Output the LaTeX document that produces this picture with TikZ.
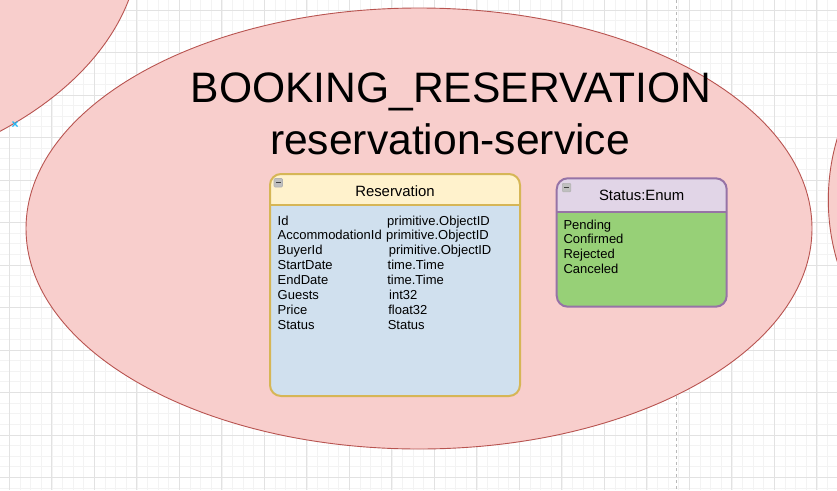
\documentclass[tikz,border=0pt]{standalone}
\usepackage{fontspec}
\setmainfont{Liberation Sans}
\definecolor{gridminor}{HTML}{F3F3F3}
\definecolor{gridmajor}{HTML}{E2E2E2}
\definecolor{ellfill}{HTML}{F8CECC}
\definecolor{ellstroke}{HTML}{B85450}
\definecolor{yelfill}{HTML}{FFF2CC}
\definecolor{yelstroke}{HTML}{D6B656}
\definecolor{bluefill}{HTML}{D0E0EE}
\definecolor{purfill}{HTML}{E1D5E7}
\definecolor{purstroke}{HTML}{9673A6}
\definecolor{grnfill}{HTML}{97D077}
\definecolor{selblue}{HTML}{29B6F2}
\begin{document}
\begin{tikzpicture}[x=1pt,y=-1pt,
  minorline/.style={draw=gridminor,line width=0.8pt},
  majorline/.style={draw=gridmajor,line width=0.9pt},
  service/.style={fill=ellfill,draw=ellstroke,line width=0.9pt},
  titletext/.style={anchor=base,inner sep=0pt,font=\fontsize{42.6}{51}\selectfont},
  headtext/.style={anchor=base,inner sep=0pt,font=\fontsize{14.9}{18}\selectfont},
  rowtext/.style={anchor=base west,inner sep=0pt,font=\fontsize{13}{15}\selectfont},
  minusicon/.style={draw=gray!60,fill=gray!50,line width=0.6pt,rounded corners=1pt},
  minusbar/.style={draw=black!75,line width=1.4pt}]
\useasboundingbox (0,0) rectangle (837,490);
\fill[white] (0,0) rectangle (837,490);
% grid
\foreach \i in {0,...,80} \draw[minorline] ({-1.225+\i*10.625},0) -- ({-1.225+\i*10.625},490);
\foreach \j in {0,...,47} \draw[minorline] (0,{-0.625+\j*10.625}) -- (837,{-0.625+\j*10.625});
\foreach \i in {0,...,19} \draw[majorline] ({9.4+\i*42.5},0) -- ({9.4+\i*42.5},490);
\foreach \j in {0,...,11} \draw[majorline] (0,{10+\j*42.5}) -- (837,{10+\j*42.5});
% page break line
\draw[draw=gray!55,line width=0.9pt,dash pattern=on 3pt off 3pt] (676.7,0) -- (676.7,490);
% service ellipses
\draw[service] (-245,-60) ellipse [x radius=385, y radius=248];
\draw[service] (1043.3,200) ellipse [x radius=215, y radius=215];
\draw[service] (419,228.5) ellipse [x radius=393, y radius=220.5];
% selection marker
\draw[selblue,line width=1.1pt] (12.5,121.5) -- (17.5,126.5) (12.5,126.5) -- (17.5,121.5);
% titles
\node[titletext] (title1) at (451,102.7) {BOOKING\_RESERVATION};
\node[titletext] (title2) at (450,154.3) {reservation-service};
% Reservation table
\fill[bluefill,rounded corners=11pt] (270,174) rectangle (520,396);
\begin{scope}
  \clip[rounded corners=11pt] (270,174) rectangle (520,396);
  \fill[yelfill] (270,174) rectangle (520,205);
\end{scope}
\draw[yelstroke,line width=2pt] (270,205) -- (520,205);
\draw[yelstroke,line width=2pt,rounded corners=11pt] (270,174) rectangle (520,396);
\draw[minusicon] (274,178.5) rectangle (282.5,187);
\draw[minusbar] (275.9,182.75) -- (280.6,182.75);
\node[headtext] (restitle) at (395,196) {Reservation};
\node[rowtext] (r1a) at (277.5,225) {Id};
\node[rowtext] (r2a) at (277.5,239.9) {AccommodationId};
\node[rowtext] (r3a) at (277.5,254.9) {BuyerId};
\node[rowtext] (r4a) at (277.5,269.8) {StartDate};
\node[rowtext] (r5a) at (277.5,284.7) {EndDate};
\node[rowtext] (r6a) at (277.5,299.7) {Guests};
\node[rowtext] (r7a) at (277.5,314.6) {Price};
\node[rowtext] (r8a) at (277.5,329.5) {Status};
\node[rowtext] (r1b) at (387.0,225) {primitive.ObjectID};
\node[rowtext] (r2b) at (386.0,239.9) {primitive.ObjectID};
\node[rowtext] (r3b) at (388.6,254.9) {primitive.ObjectID};
\node[rowtext] (r4b) at (387.5,269.8) {time.Time};
\node[rowtext] (r5b) at (387.1,284.7) {time.Time};
\node[rowtext] (r6b) at (389.0,299.7) {int32};
\node[rowtext] (r7b) at (388.1,314.6) {float32};
\node[rowtext] (r8b) at (387.6,329.5) {Status};
% Status enum table
\fill[grnfill,rounded corners=11pt] (556.7,178.3) rectangle (726.7,306.7);
\begin{scope}
  \clip[rounded corners=11pt] (556.7,178.3) rectangle (726.7,306.7);
  \fill[purfill] (556.7,178.3) rectangle (726.7,211.7);
\end{scope}
\draw[purstroke,line width=2pt] (556.7,211.7) -- (726.7,211.7);
\draw[purstroke,line width=2pt,rounded corners=11pt] (556.7,178.3) rectangle (726.7,306.7);
\draw[minusicon] (562.3,183.3) rectangle (570.8,191.8);
\draw[minusbar] (564.2,187.55) -- (568.9,187.55);
\node[headtext] (enumtitle) at (641.7,200.7) {Status:Enum};
\node[rowtext] (e1) at (563.3,229) {Pending};
\node[rowtext] (e2) at (563.3,243.9) {Confirmed};
\node[rowtext] (e3) at (563.3,258.8) {Rejected};
\node[rowtext] (e4) at (563.3,273.7) {Canceled};
\end{tikzpicture}
\end{document}
